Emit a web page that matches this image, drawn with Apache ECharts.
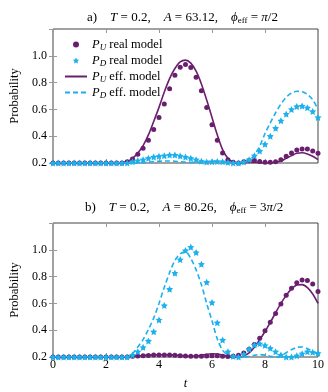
<!DOCTYPE html>
<html>
<head>
<meta charset="utf-8">
<script src="https://cdn.jsdelivr.net/npm/echarts@6/dist/echarts.min.js"></script>
<style>html,body{margin:0;padding:0;background:#fff}#c{width:328px;height:392px}</style>
</head>
<body>
<div id="c"></div>
<script>
// time grid (t)
const t = [0,0.2,0.4,0.6,0.8,1.0,1.2,1.4,1.6,1.8,2.0,2.2,2.4,2.6,2.8,3.0,3.2,3.4,3.6,3.8,4.0,4.2,4.4,4.6,4.8,5.0,5.2,5.4,5.6,5.8,6.0,6.2,6.4,6.6,6.8,7.0,7.2,7.4,7.6,7.8,8.0,8.2,8.4,8.6,8.8,9.0,9.2,9.4,9.6,9.8,10.0];

// panel a)
const puRealA = [0.2,0.2,0.2,0.2,0.2,0.2,0.2,0.2,0.2,0.2,0.2,0.2,0.2,0.2,
  0.21,0.23,0.265,0.31,0.37,0.45,0.54,0.64,0.755,0.855,0.915,0.935,0.912,0.84,0.74,0.615,0.485,0.37,0.275,0.225,0.205,0.2,0.21,0.218,0.218,0.212,0.205,0.205,0.21,0.225,0.25,0.275,0.297,0.305,0.305,0.29,0.272];
const pdRealA = [0.2,0.2,0.2,0.2,0.2,0.2,0.2,0.2,0.2,0.2,0.2,0.2,0.2,0.2,0.2,
  0.21,0.218,0.225,0.235,0.245,0.25,0.255,0.26,0.26,0.253,0.245,0.235,0.225,0.213,0.207,0.21,0.212,0.21,0.205,0.2,0.2,0.207,0.225,0.255,0.29,0.34,0.4,0.46,0.515,0.565,0.6,0.622,0.625,0.612,0.585,0.54];
const puEffA = [0.2,0.2,0.2,0.2,0.2,0.2,0.2,0.2,0.2,0.2,0.2,0.2,0.2,0.203,
  0.212,0.235,0.275,0.33,0.41,0.51,0.615,0.73,0.83,0.905,0.955,0.968,0.945,0.885,0.79,0.67,0.54,0.41,0.3,0.235,0.205,0.2,0.202,0.205,0.205,0.203,0.2,0.2,0.205,0.215,0.235,0.255,0.272,0.277,0.268,0.25,0.225];
const pdEffA = [0.2,0.2,0.2,0.2,0.2,0.2,0.2,0.2,0.2,0.2,0.2,0.2,0.2,0.2,0.2,0.2,0.2,
  0.203,0.206,0.21,0.213,0.215,0.215,0.213,0.21,0.207,0.205,0.205,0.207,0.21,0.213,0.213,0.21,0.205,0.2,0.2,0.205,0.22,0.26,0.325,0.42,0.5,0.575,0.64,0.69,0.722,0.735,0.732,0.712,0.672,0.6];

// panel b)
const puRealB = [0.2,0.2,0.2,0.2,0.2,0.2,0.2,0.2,0.2,0.2,0.2,0.2,0.2,0.2,0.2,
  0.205,0.208,0.21,0.212,0.214,0.215,0.215,0.215,0.213,0.21,0.207,0.205,0.205,0.206,0.208,0.21,0.209,0.206,0.204,0.205,0.213,0.23,0.257,0.293,0.34,0.395,0.46,0.525,0.595,0.66,0.713,0.755,0.775,0.77,0.745,0.688];
const pdRealB = [0.2,0.2,0.2,0.2,0.2,0.2,0.2,0.2,0.2,0.2,0.2,0.2,0.2,0.2,0.2,
  0.215,0.24,0.272,0.32,0.389,0.477,0.584,0.706,0.826,0.927,0.995,1.02,0.98,0.893,0.758,0.607,0.456,0.327,0.24,0.205,0.2,0.22,0.26,0.29,0.3,0.287,0.265,0.24,0.215,0.2,0.2,0.21,0.225,0.24,0.235,0.228];
const puEffB = [0.2,0.2,0.2,0.2,0.2,0.2,0.2,0.2,0.2,0.2,0.2,0.2,0.2,0.2,
  0.202,0.205,0.208,0.211,0.214,0.216,0.217,0.217,0.216,0.214,0.211,0.208,0.207,0.209,0.214,0.22,0.224,0.222,0.215,0.207,0.201,0.2,0.207,0.23,0.272,0.328,0.39,0.458,0.53,0.6,0.66,0.708,0.737,0.74,0.718,0.67,0.6];
const pdEffB = [0.2,0.2,0.2,0.2,0.2,0.2,0.2,0.2,0.2,0.2,0.2,0.2,0.2,0.2,0.2,
  0.225,0.275,0.33,0.405,0.49,0.6,0.72,0.83,0.92,0.97,0.985,0.935,0.85,0.74,0.6,0.47,0.335,0.25,0.215,0.203,0.2,0.2,0.205,0.213,0.218,0.214,0.205,0.2,0.21,0.232,0.255,0.272,0.275,0.262,0.242,0.22];

// tick labels
const xTickLabels = ['0','2','4','6','8','10'];
const yTickLabels = ['0.2','0.4','0.6','0.8','1.0',''];
const xName = 't';
const yName = 'Probability';
const seriesNames = ['PU real','PD real','PU eff','PD eff'];
const legendLabels = {
  'PU real': '{i|P}{s|U}{n| real model}',
  'PD real': '{i|P}{s|D}{n| real model}',
  'PU eff': '{i|P}{s|U}{n| eff. model}',
  'PD eff': '{i|P}{s|D}{n| eff. model}'
};
const titleA = '{n|a)    }{i|T}{n| = 0.2,    }{i|A}{n| = 63.12,    }{i|ϕ}{s|eff}{n| = }{i|π}{n|/2}';
const titleB = '{n|b)    }{i|T}{n| = 0.2,    }{i|A}{n| = 80.26,    }{i|ϕ}{s|eff}{n| = 3}{i|π}{n|/2}';

const PURPLE = '#6a1e6e';
const CYAN = '#1cb0ec';
const FONT = 'Liberation Serif';
const STAR = 'path://M0,-10L2.94,-4.05L9.51,-3.09L4.76,1.55L5.88,8.09L0,5L-5.88,8.09L-4.76,1.55L-9.51,-3.09L-2.94,-4.05Z';

const rich = {
  n: {fontFamily: FONT, fontSize: 12.5, lineHeight: 15, color: '#000'},
  i: {fontFamily: FONT, fontSize: 12.5, lineHeight: 15, fontStyle: 'italic', color: '#000'},
  s: {fontFamily: FONT, fontSize: 9, lineHeight: 8, fontStyle: 'italic', color: '#000', verticalAlign: 'bottom'}
};
const titleRich = {
  n: {fontFamily: FONT, fontSize: 13, lineHeight: 15, fontWeight: 'normal', color: '#000'},
  i: {fontFamily: FONT, fontSize: 13, lineHeight: 15, fontWeight: 'normal', fontStyle: 'italic', color: '#000'},
  s: {fontFamily: FONT, fontSize: 9, lineHeight: 8, fontWeight: 'normal', color: '#000', verticalAlign: 'bottom'}
};

const pairs = (ys) => t.map((x, k) => [x, ys[k]]);

function xAxes(gi, showLabels) {
  return [{
    type: 'value', gridIndex: gi, min: 0, max: 10, interval: 2,
    axisLine: {show: false}, splitLine: {show: false},
    axisTick: {show: true, inside: true, length: 4, lineStyle: {color: '#999'}},
    axisLabel: {show: showLabels, margin: 2, fontFamily: FONT, fontSize: 12, color: '#000',
      formatter: v => xTickLabels[Math.round(v / 2)] ?? ''},
    name: showLabels ? xName : '', nameLocation: 'middle', nameGap: 20,
    nameTextStyle: {fontFamily: FONT, fontSize: 12.5, fontStyle: 'italic', color: '#000'}
  }, {
    type: 'value', gridIndex: gi, position: 'top', min: 0, max: 10, interval: 2,
    axisLine: {show: false}, splitLine: {show: false},
    axisTick: {show: true, inside: true, length: 4, lineStyle: {color: '#999'}},
    axisLabel: {show: false}
  }];
}
function yAxes(gi) {
  return [{
    type: 'value', gridIndex: gi, min: 0.2, max: 1.2, interval: 0.2,
    axisLine: {show: false}, splitLine: {show: false},
    axisTick: {show: true, inside: true, length: 4, lineStyle: {color: '#999'}},
    axisLabel: {margin: 6, fontFamily: FONT, fontSize: 12, color: '#000',
      formatter: v => yTickLabels[Math.round((v - 0.2) / 0.2)] ?? ''},
    name: yName, nameLocation: 'middle', nameGap: 32, nameRotate: 90,
    nameTextStyle: {fontFamily: FONT, fontSize: 12.5, color: '#000'}
  }, {
    type: 'value', gridIndex: gi, position: 'right', min: 0.2, max: 1.2, interval: 0.2,
    axisLine: {show: false}, splitLine: {show: false},
    axisTick: {show: true, inside: true, length: 4, lineStyle: {color: '#999'}},
    axisLabel: {show: false}
  }];
}

function panelSeries(gi, pu, pd, pue, pde) {
  const xi = gi * 2, yi = gi * 2;
  return [
    {name: seriesNames[0], type: 'scatter', xAxisIndex: xi, yAxisIndex: yi, data: pairs(pu),
      symbol: 'circle', symbolSize: 5, itemStyle: {color: PURPLE, opacity: 1}, clip: false, z: 3},
    {name: seriesNames[1], type: 'scatter', xAxisIndex: xi, yAxisIndex: yi, data: pairs(pd),
      symbol: STAR, symbolSize: 7, itemStyle: {color: CYAN, opacity: 1}, clip: false, z: 3},
    {name: seriesNames[2], type: 'line', xAxisIndex: xi, yAxisIndex: yi, data: pairs(pue),
      smooth: 0.3, symbol: 'none', showSymbol: false, clip: false,
      lineStyle: {color: PURPLE, width: 1.6}, itemStyle: {color: PURPLE}, z: 2},
    {name: seriesNames[3], type: 'line', xAxisIndex: xi, yAxisIndex: yi, data: pairs(pde),
      smooth: 0.3, symbol: 'none', showSymbol: false, clip: false,
      lineStyle: {color: CYAN, width: 1.6, type: [5, 3]}, itemStyle: {color: CYAN}, z: 2}
  ];
}

const chart = echarts.init(document.getElementById('c'), null, {renderer: 'canvas'});
chart.setOption({
  animation: false,
  backgroundColor: '#fff',
  title: [
    {text: titleA, left: 82, top: 5, textStyle: {rich: titleRich}},
    {text: titleB, left: 80, top: 195, textStyle: {rich: titleRich}}
  ],
  legend: {
    show: true, orient: 'vertical', left: 59, top: 33,
    data: [
      {name: seriesNames[0]},
      {name: seriesNames[1]},
      {name: seriesNames[2], itemStyle: {opacity: 0}},
      {name: seriesNames[3], itemStyle: {opacity: 0}}
    ],
    itemWidth: 22, itemHeight: 6, itemGap: 2,
    formatter: name => legendLabels[name],
    textStyle: {rich: rich, padding: [0, 0, 0, 0]},
    selectedMode: false
  },
  grid: [
    {left: 45, right: 10, top: 29, height: 134, show: true, borderColor: '#444', borderWidth: 1, backgroundColor: 'transparent'},
    {left: 45, right: 10, top: 223, height: 134, show: true, borderColor: '#444', borderWidth: 1, backgroundColor: 'transparent'}
  ],
  xAxis: [...xAxes(0, false), ...xAxes(1, true)],
  yAxis: [...yAxes(0), ...yAxes(1)],
  series: [...panelSeries(0, puRealA, pdRealA, puEffA, pdEffA), ...panelSeries(1, puRealB, pdRealB, puEffB, pdEffB)]
});
</script>
</body>
</html>
